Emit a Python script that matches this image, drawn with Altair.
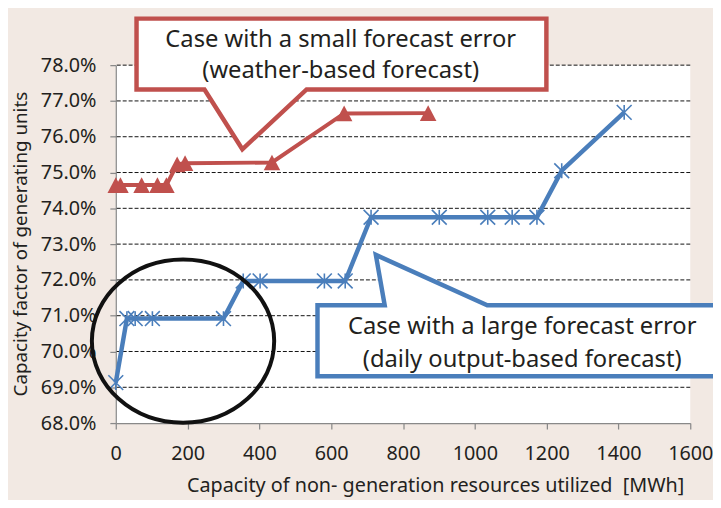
import altair as alt
import pandas as pd

# ---- data ----
red_x = [0, 13, 72, 116, 141, 171, 193, 435, 636, 870]
red_y = [74.65, 74.65, 74.65, 74.65, 74.65, 75.23, 75.26, 75.28, 76.65, 76.66]

blue_x = [0, 31, 54, 102, 300, 355, 402, 581, 639, 711, 901, 1036, 1104, 1173, 1242, 1416]
blue_y = [69.13, 70.92, 70.92, 70.92, 70.92, 71.97, 71.97, 71.97, 71.97,
          73.75, 73.75, 73.75, 73.75, 73.75, 75.05, 76.68]

x_ticks = [0, 200, 400, 600, 800, 1000, 1200, 1400, 1600]
y_ticks = [68, 69, 70, 71, 72, 73, 74, 75, 76, 77, 78]
grid_vals = [69, 70, 71, 72, 73, 74, 75, 76, 77, 78]

red_label = ["Case with a small forecast error", "(weather-based forecast)"]
blue_label = ["Case with a large forecast error", "(daily output-based forecast)"]

x_title = "Capacity of non- generation resources utilized\u00a0 [MWh]"
y_title = "Capacity factor of generating units"

# annotation geometry in data units
red_box_x = [57.8, 1199.3]
red_box_y = [77.32, 79.30]
red_ptr_x = [247, 352.5, 531.5]
red_ptr_y = [77.32, 75.65, 77.32]
red_text_x = 626.5
red_text_y = [78.50, 77.63]

blue_box_x = [561.8, 1770]
blue_box_y = [69.31, 71.29]
blue_ptr_tip = [724.3, 72.70]
blue_ptr_base = [749, 1034.6]
blue_text_x = 1132
blue_text_y = [70.49, 69.58]

ellipse_center = [187.3, 70.29]

RED = "#C0504D"
BLUE = "#4A7EBB"
TXT = "#231F20"
AX = "#898989"
FONT = "Noto Sans"

# ---- tables ----
red_df = pd.DataFrame({"x": red_x, "y": red_y})
blue_df = pd.DataFrame({"x": blue_x, "y": blue_y})
grid_df = pd.DataFrame({"y": grid_vals})

red_box_df = pd.DataFrame({"x": [red_box_x[0]], "x2": [red_box_x[1]],
                           "y": [red_box_y[0]], "y2": [red_box_y[1]]})
red_ptr_df = pd.DataFrame({"x": red_ptr_x, "y": red_ptr_y, "y2": [red_box_y[0]] * 3})
red_outline = [
    (red_box_x[0], red_box_y[1]), (red_box_x[1], red_box_y[1]),
    (red_box_x[1], red_box_y[0]), (red_ptr_x[2], red_ptr_y[2]),
    (red_ptr_x[1], red_ptr_y[1]), (red_ptr_x[0], red_ptr_y[0]),
    (red_box_x[0], red_box_y[0]), (red_box_x[0], red_box_y[1]),
]
red_out_df = pd.DataFrame({"x": [p[0] for p in red_outline],
                           "y": [p[1] for p in red_outline],
                           "i": list(range(len(red_outline)))})

blue_box_df = pd.DataFrame({"x": [blue_box_x[0]], "x2": [blue_box_x[1]],
                            "y": [blue_box_y[0]], "y2": [blue_box_y[1]]})
blue_ptr_df = pd.DataFrame({"y": [blue_box_y[1], blue_ptr_tip[1]],
                            "x": [blue_ptr_base[0], blue_ptr_tip[0]],
                            "x2": [blue_ptr_base[1], blue_ptr_tip[0]]})
blue_outline = [
    (blue_box_x[0], blue_box_y[1]), (blue_ptr_base[0], blue_box_y[1]),
    (blue_ptr_tip[0], blue_ptr_tip[1]), (blue_ptr_base[1], blue_box_y[1]),
    (blue_box_x[1], blue_box_y[1]), (blue_box_x[1], blue_box_y[0]),
    (blue_box_x[0], blue_box_y[0]), (blue_box_x[0], blue_box_y[1]),
]
blue_out_df = pd.DataFrame({"x": [p[0] for p in blue_outline],
                            "y": [p[1] for p in blue_outline],
                            "i": list(range(len(blue_outline)))})

text_df = pd.DataFrame({
    "x": [red_text_x, red_text_x, blue_text_x, blue_text_x],
    "y": red_text_y + blue_text_y,
    "t": red_label + blue_label,
})
ell_df = pd.DataFrame({"x": [ellipse_center[0]], "y": [ellipse_center[1]]})

# ---- scales / axes ----
xs = alt.Scale(domain=[0, 1600], nice=False, zero=False)
ys = alt.Scale(domain=[68, 78], nice=False, zero=False)

x_axis = alt.Axis(values=x_ticks, title=x_title, grid=False, format="d",
                  labelFont=FONT, labelFontSize=20, labelColor=TXT, labelPadding=15,
                  labelFlush=False,
                  tickSize=6, tickColor=AX, tickWidth=1.25,
                  domainColor=AX, domainWidth=1.25,
                  titleFont=FONT, titleFontSize=20, titleFontWeight="normal",
                  titleColor=TXT, titleX=323, titleY=69, titleBaseline="alphabetic",
                  titleAlign="center")
y_axis = alt.Axis(values=y_ticks, title=y_title, grid=False,
                  labelExpr="format(datum.value, '.1f') + '%'",
                  labelFont=FONT, labelFontSize=20, labelColor=TXT, labelPadding=14,
                  tickSize=6, tickColor=AX, tickWidth=1.25,
                  domainColor=AX, domainWidth=1.25,
                  titleFont=FONT, titleFontSize=19, titleFontWeight="normal",
                  titleColor=TXT, titleX=-96, titleY=180.5, titleBaseline="middle",
                  titleAlign="center", titleAngle=270)

X = alt.X("x:Q", scale=xs, axis=x_axis)
Y = alt.Y("y:Q", scale=ys, axis=y_axis)

tri_path = "M0,-0.95L1,0.95L-1,0.95Z"
star_path = "M-1,-1L1,1M-1,1L1,-1M0,-1L0,1"
ell_path = ("M-1,0C-1,-0.494,-0.552,-0.895,0,-0.895C0.552,-0.895,1,-0.494,1,0"
            "C1,0.494,0.552,0.895,0,0.895C-0.552,0.895,-1,0.494,-1,0Z")

grid = alt.Chart(grid_df).mark_rule(color="#111111", strokeWidth=1, strokeDash=[4, 2]).encode(y=Y)

red_line = alt.Chart(red_df).mark_line(color=RED, strokeWidth=4).encode(x=X, y=Y)
red_pts = alt.Chart(red_df).mark_point(shape=tri_path, filled=True, size=280,
                                       color=RED, opacity=1).encode(x=X, y=Y)
blue_line = alt.Chart(blue_df).mark_line(color=BLUE, strokeWidth=4.5).encode(x=X, y=Y)
blue_pts = alt.Chart(blue_df).mark_point(shape=star_path, filled=False, size=225,
                                         color=BLUE, strokeWidth=1.6, opacity=1).encode(x=X, y=Y)

red_box = alt.Chart(red_box_df).mark_rect(color="white").encode(
    x=X, x2=alt.X2("x2:Q"), y=Y, y2=alt.Y2("y2:Q"))
red_ptr = alt.Chart(red_ptr_df).mark_area(color="white", opacity=1).encode(
    x=X, y=Y, y2=alt.Y2("y2:Q"))
red_out = alt.Chart(red_out_df).mark_line(color=RED, strokeWidth=4.5, strokeJoin="miter",
                                          strokeCap="square").encode(
    x=X, y=Y, order=alt.Order("i:Q"))

blue_box = alt.Chart(blue_box_df).mark_rect(color="white").encode(
    x=X, x2=alt.X2("x2:Q"), y=Y, y2=alt.Y2("y2:Q"))
blue_ptr = alt.Chart(blue_ptr_df).mark_area(color="white", opacity=1, orient="horizontal").encode(
    y=Y, x=X, x2=alt.X2("x2:Q"))
blue_out = alt.Chart(blue_out_df).mark_line(color=BLUE, strokeWidth=4.5, strokeJoin="miter",
                                            strokeCap="square").encode(
    x=X, y=Y, order=alt.Order("i:Q"))

texts = alt.Chart(text_df).mark_text(font=FONT, fontSize=24, color=TXT, align="center",
                                     baseline="alphabetic").encode(x=X, y=Y, text="t:N")

ellipse = alt.Chart(ell_df).mark_point(shape=ell_path, filled=False, size=34000,
                                       stroke="#111111", strokeWidth=4, opacity=1).encode(x=X, y=Y)

chart = alt.layer(
    grid, red_line, red_pts, blue_line, blue_pts,
    red_box, red_ptr, red_out, blue_box, blue_ptr, blue_out,
    texts, ellipse,
).properties(
    width=581, height=362,
    autosize=alt.AutoSizeParams(type="none"),
    padding={"left": 109, "top": 55, "right": 23, "bottom": 75},
    background="#F2E9E3",
).configure_view(fill="white", strokeWidth=0)

chart.save("out.html", embed_options={"renderer": "svg", "actions": False})
